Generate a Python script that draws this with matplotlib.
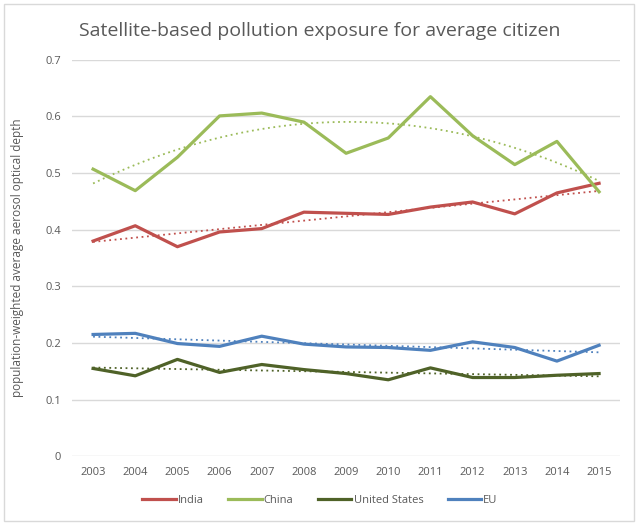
import numpy as np
import matplotlib.pyplot as plt
from matplotlib.patches import Rectangle

years = np.arange(2003, 2016)
india = [0.380, 0.407, 0.370, 0.396, 0.402, 0.431, 0.429, 0.427, 0.440, 0.449, 0.428, 0.465, 0.482]
china = [0.507, 0.469, 0.528, 0.601, 0.606, 0.590, 0.535, 0.562, 0.635, 0.566, 0.515, 0.556, 0.467]
us = [0.155, 0.142, 0.171, 0.148, 0.162, 0.153, 0.146, 0.135, 0.156, 0.139, 0.139, 0.143, 0.146]
eu = [0.215, 0.217, 0.199, 0.194, 0.212, 0.198, 0.193, 0.192, 0.187, 0.202, 0.192, 0.168, 0.196]

names = ["India", "China", "United States", "EU"]
series = [india, china, us, eu]
colors = ["#c0504d", "#9bbb59", "#4f6228", "#4f81bd"]
trend_order = [1, 2, 1, 1]

plt.rcParams['font.family'] = ['Open Sans', 'DejaVu Sans']
txt = "#595959"

fig = plt.figure(figsize=(6.4, 5.25), dpi=100)
ax = fig.add_axes([0.1125, 0.131, 0.8565, 0.755])

for name, vals, c, order in zip(names, series, colors, trend_order):
    ax.plot(years, vals, color=c, lw=2.3, label=name, solid_joinstyle='round')
    coef = np.polyfit(years - 2003, vals, order)
    xs = np.linspace(2003, 2015, 100)
    ax.plot(xs, np.polyval(coef, xs - 2003), color=c, lw=1.3, ls=(0, (1, 2)))

ax.set_xlim(2002.5, 2015.5)
ax.set_ylim(0, 0.7)
ax.set_xticks(years)
ax.set_yticks(np.arange(0, 0.71, 0.1))
ax.set_yticklabels(["0", "0.1", "0.2", "0.3", "0.4", "0.5", "0.6", "0.7"])
ax.grid(axis='y', color='#d9d9d9', lw=1)
ax.set_axisbelow(True)
for s in ax.spines.values():
    s.set_visible(False)
ax.tick_params(length=0, labelsize=8, colors=txt, pad=8)
ax.set_ylabel("population-weighted average aerosol optical depth", fontsize=8.5, color=txt, labelpad=15)

fig.text(0.5, 0.94, "Satellite-based pollution exposure for average citizen",
         ha='center', va='center', fontsize=14, color=txt)

handles = [ax.lines[i * 2] for i in range(4)]
fig.legend(handles, names, loc='center', bbox_to_anchor=(0.5, 0.047), ncol=4, frameon=False,
           fontsize=8, labelcolor=txt, handlelength=3, handletextpad=0.2, columnspacing=2.2)

fig.patches.append(Rectangle((0.006, 0.008), 0.985, 0.985, transform=fig.transFigure,
                             fill=False, edgecolor='#d9d9d9', lw=1))

fig.savefig("out.png", dpi=100)
